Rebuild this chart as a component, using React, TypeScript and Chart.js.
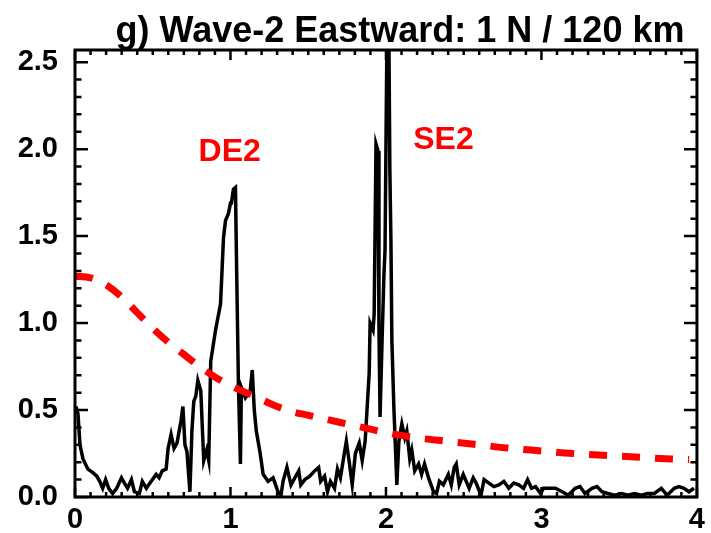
import React, { useEffect, useRef } from "react";
import { Chart, registerables } from "chart.js";

Chart.register(...registerables);

const TITLE = "g) Wave-2 Eastward: 1 N / 120 km";
const X_MIN = 0;
const X_MAX = 4;
const Y_MIN = 0;
const Y_MAX = 2.57;

// Spectrum (black line): frequency (cycles/day) and amplitude
const spectrumX = [
  0.006, 0.019, 0.032, 0.051, 0.083, 0.115, 0.14, 0.159, 0.178, 0.197,
  0.217, 0.242, 0.268, 0.299, 0.318, 0.338, 0.363, 0.382, 0.414, 0.433,
  0.459, 0.49, 0.522, 0.541, 0.561, 0.586, 0.599, 0.618, 0.637, 0.656,
  0.682, 0.694, 0.707, 0.72, 0.739, 0.752, 0.764, 0.777, 0.79, 0.809,
  0.828, 0.847, 0.86, 0.873, 0.904, 0.936, 0.955, 0.968, 0.987, 1.0,
  1.006, 1.019, 1.032, 1.038, 1.051, 1.064, 1.07, 1.096, 1.127, 1.14,
  1.153, 1.166, 1.191, 1.21, 1.242, 1.274, 1.306, 1.325, 1.338, 1.363,
  1.389, 1.414, 1.439, 1.452, 1.478, 1.51, 1.541, 1.567, 1.58, 1.605,
  1.624, 1.643, 1.669, 1.688, 1.707, 1.732, 1.745, 1.764, 1.783, 1.803,
  1.828, 1.847, 1.866, 1.892, 1.898, 1.917, 1.924, 1.936, 1.949, 1.955,
  1.962, 1.975, 1.987, 1.994, 2.006, 2.019, 2.025, 2.032, 2.038, 2.051,
  2.07, 2.083, 2.102, 2.121, 2.134, 2.153, 2.166, 2.185, 2.21, 2.229,
  2.248, 2.274, 2.306, 2.325, 2.344, 2.369, 2.401, 2.42, 2.439, 2.452,
  2.471, 2.497, 2.516, 2.535, 2.561, 2.58, 2.611, 2.631, 2.662, 2.694,
  2.726, 2.758, 2.79, 2.822, 2.854, 2.885, 2.911, 2.936, 2.962, 2.994,
  3.013, 3.057, 3.089, 3.134, 3.172, 3.217, 3.248, 3.28, 3.325, 3.357,
  3.389, 3.427, 3.471, 3.516, 3.554, 3.599, 3.643, 3.682, 3.726, 3.771,
  3.809, 3.854, 3.885, 3.917, 3.949, 3.981,
];
const spectrumY = [
  0.52, 0.48, 0.30, 0.22, 0.16, 0.14, 0.12, 0.09, 0.05, 0.10,
  0.05, 0.02, 0.05, 0.11, 0.08, 0.05, 0.10, 0.03, 0.02, 0.09,
  0.05, 0.09, 0.13, 0.11, 0.15, 0.16, 0.28, 0.36, 0.28, 0.31,
  0.44, 0.52, 0.30, 0.26, 0.03, 0.38, 0.55, 0.58, 0.67, 0.61,
  0.21, 0.27, 0.21, 0.78, 0.96, 1.11, 1.49, 1.59, 1.63, 1.69,
  1.69, 1.77, 1.78, 1.40, 0.65, 0.19, 0.63, 0.57, 0.61, 0.73,
  0.50, 0.38, 0.25, 0.13, 0.09, 0.11, 0.03, 0.01, 0.09, 0.17,
  0.07, 0.11, 0.15, 0.07, 0.10, 0.12, 0.15, 0.17, 0.09, 0.12,
  0.03, 0.09, 0.05, 0.16, 0.11, 0.25, 0.32, 0.20, 0.07, 0.25,
  0.31, 0.21, 0.32, 0.71, 1.00, 0.96, 1.05, 2.03, 1.99, 0.96,
  0.46, 0.90, 1.28, 1.42, 2.62, 2.62, 1.88, 1.47, 0.90, 0.51,
  0.07, 0.32, 0.42, 0.34, 0.38, 0.22, 0.27, 0.15, 0.19, 0.13,
  0.19, 0.11, 0.03, 0.02, 0.09, 0.07, 0.13, 0.07, 0.17, 0.19,
  0.07, 0.13, 0.09, 0.05, 0.11, 0.08, 0.01, 0.10, 0.08, 0.06,
  0.07, 0.09, 0.05, 0.08, 0.07, 0.05, 0.10, 0.05, 0.06, 0.02,
  0.05, 0.05, 0.05, 0.03, 0.01, 0.05, 0.06, 0.02, 0.05, 0.06,
  0.03, 0.02, 0.01, 0.02, 0.01, 0.02, 0.01, 0.02, 0.02, 0.05,
  0.01, 0.05, 0.06, 0.05, 0.03, 0.05,
];

// Background fit (red dashed line)
const fitX = [
  0, 0.1, 0.2, 0.3, 0.4, 0.5, 0.6, 0.7, 0.8, 0.9, 1.0, 1.1, 1.2, 1.3, 1.4,
  1.5, 1.6, 1.7, 1.8, 1.9, 2.0, 2.2, 2.4, 2.6, 2.8, 3.0, 3.2, 3.4, 3.6, 3.8,
  3.95,
];
const fitY = [
  1.27, 1.26, 1.22, 1.15, 1.06, 0.97, 0.89, 0.82, 0.75, 0.69, 0.64, 0.6,
  0.56, 0.52, 0.49, 0.47, 0.45, 0.43, 0.41, 0.39, 0.37, 0.34, 0.32, 0.3,
  0.28, 0.265, 0.25, 0.24, 0.23, 0.22, 0.215,
];

const PEAK_LABELS = ["DE2", "SE2"];
const PEAK_LABEL_X = [0.995, 2.37];
const PEAK_LABEL_Y = [1.98, 2.05];

const FONT = "'Liberation Sans', Arial, Helvetica, sans-serif";

const framePlugin = {
  id: "idlFrame",
  afterDatasetsDraw(chart: any) {
    const { ctx, chartArea: a, scales } = chart;
    const xs = scales.x;
    const ys = scales.y;
    ctx.save();
    ctx.strokeStyle = "#000";
    ctx.lineCap = "butt";
    ctx.lineWidth = 2.5;
    ctx.beginPath();
    for (let i = 0; i <= 40; i++) {
      const px = xs.getPixelForValue(i / 10);
      const len = i % 10 === 0 ? 10 : 5;
      ctx.moveTo(px, a.bottom);
      ctx.lineTo(px, a.bottom - len);
      ctx.moveTo(px, a.top);
      ctx.lineTo(px, a.top + len);
    }
    for (let i = 0; i <= 25; i++) {
      const py = ys.getPixelForValue(i / 10);
      const len = i % 5 === 0 ? 13 : 6.5;
      ctx.moveTo(a.left, py);
      ctx.lineTo(a.left + len, py);
      ctx.moveTo(a.right, py);
      ctx.lineTo(a.right - len, py);
    }
    ctx.stroke();
    ctx.lineWidth = 3;
    ctx.strokeRect(a.left, a.top, a.right - a.left, a.bottom - a.top);

    // peak labels
    ctx.fillStyle = "#ff0000";
    ctx.font = `bold 32px ${FONT}`;
    ctx.textAlign = "center";
    ctx.textBaseline = "middle";
    PEAK_LABELS.forEach((t, i) => {
      ctx.fillText(t, xs.getPixelForValue(PEAK_LABEL_X[i]), ys.getPixelForValue(PEAK_LABEL_Y[i]));
    });

    // title
    ctx.fillStyle = "#000";
    ctx.font = `bold 36px ${FONT}`;
    ctx.textAlign = "center";
    ctx.textBaseline = "alphabetic";
    ctx.fillText(TITLE, 400, 42);
    ctx.restore();
  },
};

export default function App() {
  const ref = useRef<HTMLCanvasElement | null>(null);

  useEffect(() => {
    if (!ref.current) return;
    const chart = new Chart(ref.current, {
      type: "line",
      data: {
        datasets: [
          {
            label: "fit",
            data: fitX.map((x, i) => ({ x, y: fitY[i] })),
            borderColor: "#ff0000",
            borderWidth: 7,
            borderDash: [18, 15],
            borderCapStyle: "butt",
            pointRadius: 0,
            fill: false,
            cubicInterpolationMode: "monotone",
            order: 0,
          },
          {
            label: "spectrum",
            data: spectrumX.map((x, i) => ({ x, y: spectrumY[i] })),
            borderColor: "#000000",
            borderWidth: 3.5,
            pointRadius: 0,
            fill: false,
            tension: 0,
            borderJoinStyle: "miter",
            order: 1,
          },
        ],
      },
      options: {
        animation: false,
        responsive: false,
        devicePixelRatio: 1,
        layout: { padding: { top: 50, right: 8, left: 0, bottom: 0 } },
        plugins: {
          legend: { display: false },
          tooltip: { enabled: false },
          title: { display: false },
        },
        scales: {
          x: {
            type: "linear",
            min: X_MIN,
            max: X_MAX,
            grid: { display: false, drawTicks: false },
            border: { display: false },
            ticks: {
              stepSize: 1,
              padding: 6,
              color: "#000",
              font: { family: FONT, size: 29, weight: "bold" },
              maxRotation: 0,
              callback: (v: any) => String(v),
            },
            afterFit: (s: any) => {
              s.height = 36;
            },
          },
          y: {
            type: "linear",
            min: Y_MIN,
            max: Y_MAX,
            grid: { display: false, drawTicks: false },
            border: { display: false },
            ticks: {
              stepSize: 0.5,
              includeBounds: false,
              padding: 17,
              color: "#000",
              font: { family: FONT, size: 29, weight: "bold" },
              callback: (v: any) => Number(v).toFixed(1),
            },
            afterFit: (s: any) => {
              s.width = 75;
            },
          },
        },
      },
      plugins: [framePlugin],
    });
    return () => chart.destroy();
  }, []);

  return (
    <div style={{ position: "fixed", left: 0, top: 0, width: 711, height: 533, background: "#fff" }}>
      <canvas ref={ref} width={711} height={533} style={{ width: 711, height: 533 }} />
    </div>
  );
}
